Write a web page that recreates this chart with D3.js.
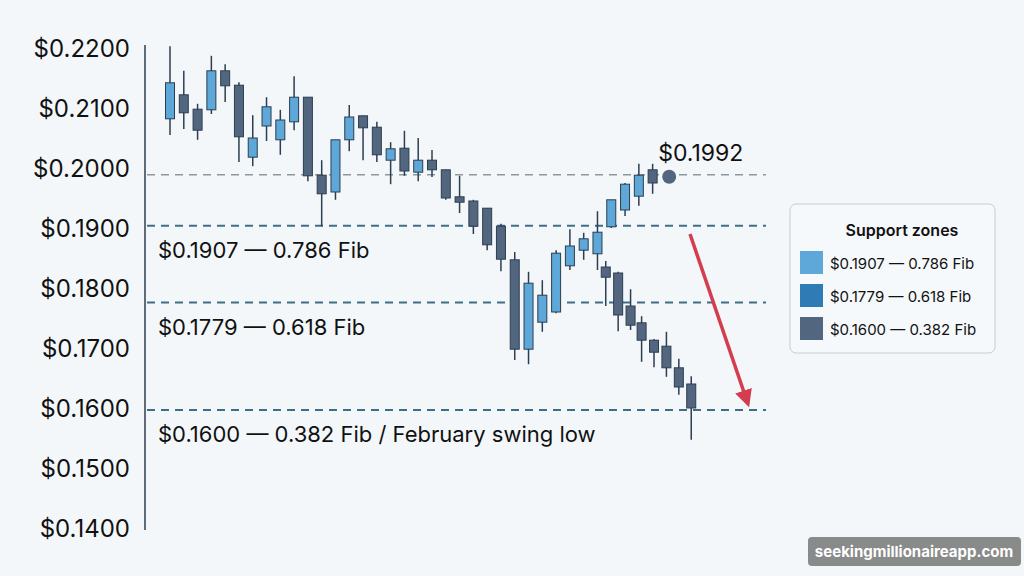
<!DOCTYPE html>
<html>
<head>
<meta charset="utf-8">
<script src="https://cdn.jsdelivr.net/npm/d3@7"></script>
<style>
  body { margin: 0; background: #f3f7fa; }
  text { font-family: Inter, "Noto Sans", sans-serif; }
</style>
</head>
<body>
<div class="chart"></div>
<script>
// main run: day index, open, high, low, close
var mainDays = [0,1,2,3,4,5,6,7,8,9,10,11,12,13,14,15,16,17,18,19,20,21,22,23,24,25,26,27,28,29,30,31,32,33,34,35];
var mainOpen  = [.2082,.2122,.2098,.2097,.2162,.2138,.2018,.2070,.2047,.2077,.2118,.1988,.1960,.2047,.2087,.2068,.2013,.2033,.1993,.2013,.1997,.1952,.1945,.1933,.1903,.1847,.1698,.1743,.1760,.1837,.1863,.1857,.1902,.1930,.1953,.1997];
var mainHigh  = [.2203,.2162,.2107,.2187,.2173,.2143,.2088,.2118,.2097,.2153,.2118,.2013,.2047,.2105,.2087,.2077,.2043,.2062,.2050,.2030,.1997,.1987,.1947,.1933,.1907,.1860,.1827,.1813,.1863,.1898,.1892,.1928,.1947,.1975,.2007,.2007];
var mainLow   = [.2055,.2065,.2047,.2090,.2110,.2010,.2003,.2045,.2022,.2063,.1978,.1903,.1947,.2028,.2013,.2010,.1973,.1987,.1978,.1985,.1947,.1925,.1890,.1863,.1828,.1680,.1673,.1727,.1758,.1830,.1847,.1830,.1900,.1920,.1937,.1957];
var mainClose = [.2142,.2092,.2063,.2162,.2137,.2052,.2050,.2102,.2080,.2118,.1987,.1957,.2047,.2085,.2067,.2022,.2032,.1995,.2013,.1997,.1950,.1943,.1903,.1872,.1848,.1698,.1808,.1788,.1858,.1870,.1882,.1893,.1947,.1973,.1988,.1975];

// second leg down
var dropDays  = [31.6,32.5,33.4,34.2,35.1,36,36.9,37.8];
var dropOpen  = [.1835,.1825,.1770,.1742,.1713,.1703,.1667,.1640];
var dropHigh  = [.1845,.1827,.1798,.1753,.1715,.1727,.1682,.1653];
var dropLow   = [.1770,.1728,.1730,.1677,.1668,.1652,.1622,.1547];
var dropClose = [.1818,.1755,.1738,.1713,.1693,.1667,.1635,.1600];

var yTicks = [.22,.21,.20,.19,.18,.17,.16,.15,.14];
var levels = [.1992,.1907,.1779,.1600];
var levelLabels = ['', '$0.1907 — 0.786 Fib', '$0.1779 — 0.618 Fib', '$0.1600 — 0.382 Fib / February swing low'];
var legendLabels = ['$0.1907 — 0.786 Fib', '$0.1779 — 0.618 Fib', '$0.1600 — 0.382 Fib'];
var legendColors = ['#5ea7d9', '#2f7bb6', '#52677f'];
var lastPrice = .1992;

var width = 1024, height = 576;
var upColor = '#5ea7d9', downColor = '#52677f', stroke = '#2c3e50';

var x = d3.scaleLinear().domain([0, 38]).range([170, 694]);
var y = d3.scaleLinear().domain([.14, .22]).range([528, 48]);

var svg = d3.select('.chart').append('svg')
    .attr('width', width)
    .attr('height', height);

svg.append('rect').attr('width', width).attr('height', height).attr('fill', '#f3f7fa');

// y axis
svg.append('line')
    .attr('x1', 145).attr('x2', 145).attr('y1', 45).attr('y2', 530)
    .attr('stroke', '#2c3e50').attr('stroke-width', 1.5);
svg.selectAll('.ytick').data(yTicks).enter().append('text')
    .attr('x', 130).attr('y', function(d) { return y(d) + 9; })
    .attr('text-anchor', 'end').attr('font-size', 24).attr('fill', '#111')
    .text(function(d) { return '$' + d.toFixed(4); });

// support lines
svg.selectAll('.lvl').data(levels).enter().append('line')
    .attr('x1', 147).attr('x2', 766)
    .attr('y1', function(d) { return y(d) + 2; }).attr('y2', function(d) { return y(d) + 2; })
    .attr('stroke', function(d, i) { return i == 0 ? '#8c98a2' : '#3f6f86'; })
    .attr('stroke-width', function(d, i) { return i == 0 ? 1.5 : 2; })
    .attr('stroke-dasharray', '8,6');
svg.selectAll('.lvlText').data(levels).enter().append('text')
    .attr('x', 158).attr('y', function(d) { return y(d) + 34; })
    .attr('font-size', 22).attr('fill', '#111')
    .text(function(d, i) { return levelLabels[i]; });

function drawCandles(days, o, h, l, c) {
    var data = days.map(function(d, i) { return {d: d, o: o[i], h: h[i], l: l[i], c: c[i]}; });
    var g = svg.append('g');
    g.selectAll('line').data(data).enter().append('line')
        .attr('x1', function(d) { return x(d.d); }).attr('x2', function(d) { return x(d.d); })
        .attr('y1', function(d) { return y(d.h); }).attr('y2', function(d) { return y(d.l); })
        .attr('stroke', stroke).attr('stroke-width', 1.5);
    g.selectAll('rect').data(data).enter().append('rect')
        .attr('x', function(d) { return x(d.d) - 4.5; }).attr('width', 9)
        .attr('y', function(d) { return y(Math.max(d.o, d.c)); })
        .attr('height', function(d) { return Math.max(2, Math.abs(y(d.o) - y(d.c))); })
        .attr('fill', function(d) { return d.c >= d.o ? upColor : downColor; })
        .attr('stroke', stroke).attr('stroke-width', 1);
}
drawCandles(mainDays, mainOpen, mainHigh, mainLow, mainClose);
drawCandles(dropDays, dropOpen, dropHigh, dropLow, dropClose);

// last price marker
svg.append('circle').attr('cx', x(36.2)).attr('cy', y(lastPrice) + 4).attr('r', 7).attr('fill', '#52677f');
svg.append('text').attr('x', x(35.4)).attr('y', y(lastPrice) - 12)
    .attr('font-size', 23).attr('fill', '#111').text('$' + lastPrice.toFixed(4));

// arrow
svg.append('defs').append('marker')
    .attr('id', 'ah').attr('viewBox', '0 0 10 10').attr('refX', 8).attr('refY', 5)
    .attr('markerWidth', 5).attr('markerHeight', 5).attr('orient', 'auto')
    .append('path').attr('d', 'M0,0L10,5L0,10z').attr('fill', '#d43d4f');
svg.append('line')
    .attr('x1', 690).attr('y1', y(.19) + 6).attr('x2', 748).attr('y2', y(.16) - 4)
    .attr('stroke', '#d43d4f').attr('stroke-width', 3.5).attr('marker-end', 'url(#ah)');

// legend
var lg = svg.append('g').attr('transform', 'translate(790,204)');
lg.append('rect').attr('width', 205).attr('height', 149).attr('rx', 6)
    .attr('fill', '#f6f9fb').attr('stroke', '#c5ccd3');
lg.append('text').attr('x', 112).attr('y', 32).attr('text-anchor', 'middle')
    .attr('font-size', 16).attr('font-weight', 600).attr('fill', '#111').text('Support zones');
lg.selectAll('.sw').data(legendLabels).enter().append('rect')
    .attr('x', 10).attr('y', function(d, i) { return 47 + i * 33; })
    .attr('width', 23).attr('height', 23)
    .attr('fill', function(d, i) { return legendColors[i]; });
lg.selectAll('.lt').data(legendLabels).enter().append('text')
    .attr('x', 40).attr('y', function(d, i) { return 65 + i * 33; })
    .attr('font-size', 15).attr('fill', '#111').text(function(d) { return d; });

// watermark
svg.append('rect').attr('x', 808).attr('y', 537).attr('width', 213).attr('height', 29).attr('rx', 4)
    .attr('fill', '#7d7d7d').attr('opacity', 0.9);
svg.append('text').attr('x', 914).attr('y', 557).attr('text-anchor', 'middle')
    .attr('font-size', 15).attr('font-weight', 700).attr('fill', '#fff').text('seekingmillionaireapp.com');
</script>
</body>
</html>
